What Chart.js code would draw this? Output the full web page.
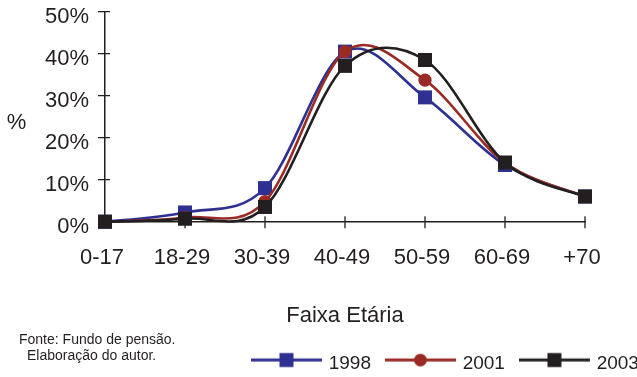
<!DOCTYPE html>
<html>
<head>
<meta charset="utf-8">
<script src="https://cdn.jsdelivr.net/npm/chart.js@4.4.1/dist/chart.umd.min.js"></script>
<style>
  html, body { margin: 0; padding: 0; background: #ffffff; }
  #wrap { width: 637px; height: 377px; }
</style>
</head>
<body>
<div id="wrap"><canvas id="chart" width="637" height="377"></canvas></div>
<script>
// Age bands on the horizontal axis
const ageBands = ['0-17', '18-29', '30-39', '40-49', '50-59', '60-69', '+70'];
// Share of participants (%) in each age band, by year
const share1998 = [0, 2.2, 8.0, 40.5, 29.6, 13.5, 6.0];
const share2001 = [0, 1.0, 4.8, 40.5, 33.7, 14.0, 6.0];
const share2003 = [0, 0.7, 3.5, 37.1, 38.5, 14.1, 6.0];
// Vertical axis ticks (%)
const yTickValues = [0, 10, 20, 30, 40, 50];
// Text
const seriesNames = ['1998', '2001', '2003'];
const xAxisTitle = 'Faixa Etária';
const yAxisTitle = '%';
const footNotes = ['Fonte: Fundo de pensão.', 'Elaboração do autor.'];

const ink = '#231F20';
const blue = '#2E3192';
const red = '#9A2A24';
const black = '#231F20';
const family = '"Liberation Sans", Arial, Helvetica, sans-serif';

// Legend swatch: a line with the series marker in the middle
function swatch(color, shape) {
  const c = document.createElement('canvas');
  c.width = 71; c.height = 28;
  const g = c.getContext('2d');
  const cy = 10.3;
  g.strokeStyle = color; g.lineWidth = 3;
  g.beginPath(); g.moveTo(0, cy); g.lineTo(71, cy); g.stroke();
  g.fillStyle = color;
  if (shape === 'circle') {
    g.beginPath(); g.arc(35.5, cy, 6.4, 0, Math.PI * 2); g.fill();
  } else {
    g.fillRect(35.5 - 7, cy - 7, 14, 14);
  }
  return c;
}
const swatches = [swatch(blue, 'rect'), swatch(red, 'circle'), swatch(black, 'rect')];

// Uniform Catmull-Rom control points (spreadsheet-style smoothed lines)
const smoothLines = {
  id: 'smoothLines',
  beforeDatasetsDraw(chart) {
    chart.getSortedVisibleDatasetMetas().forEach((meta) => {
      if (meta.dataset) meta.dataset.updateControlPoints(chart.chartArea, meta.iScale.axis);
      const pts = meta.data;
      pts.forEach((p, i) => {
        const prev = pts[i - 1] || p;
        const next = pts[i + 1] || p;
        const dx = (next.x - prev.x) / 6;
        const dy = (next.y - prev.y) / 6;
        p.cp1x = p.x - dx; p.cp1y = p.y - dy;
        p.cp2x = p.x + dx; p.cp2y = p.y + dy;
      });
    });
  }
};

// Tick marks that cross both axes
const crossTicks = {
  id: 'crossTicks',
  beforeDatasetsDraw(chart) {
    const { ctx, chartArea, scales: { x, y } } = chart;
    ctx.save();
    ctx.strokeStyle = ink;
    ctx.lineWidth = 1.3;
    ctx.beginPath();
    x.ticks.forEach((t, i) => {
      const px = x.getPixelForTick(i);
      ctx.moveTo(px, chartArea.bottom - 5.5);
      ctx.lineTo(px, chartArea.bottom + 6.5);
    });
    y.ticks.forEach((t, i) => {
      const py = y.getPixelForTick(i);
      ctx.moveTo(chartArea.left - 7, py);
      ctx.lineTo(chartArea.left + 5, py);
    });
    ctx.stroke();
    ctx.restore();
  }
};

// Legend sits in the lower right, level with the second note line
const legendPlacement = {
  id: 'legendPlacement',
  afterLayout(chart) {
    const lg = chart.legend;
    const dx = 237 - lg.left;
    const dy = 337.5 - lg.top;
    lg.left += dx; lg.right += dx;
    lg.top += dy; lg.bottom += dy;
  }
};

// Upright "%" axis label and the source notes
const annotations = {
  id: 'annotations',
  afterDraw(chart) {
    const { ctx, chartArea } = chart;
    ctx.save();
    ctx.fillStyle = ink;
    ctx.font = '22px ' + family;
    ctx.textAlign = 'center';
    ctx.textBaseline = 'middle';
    ctx.fillText(yAxisTitle, 16.5, (chartArea.top + chartArea.bottom) / 2 + 6.5);
    ctx.font = '14px ' + family;
    ctx.textAlign = 'left';
    ctx.textBaseline = 'alphabetic';
    ctx.fillText(footNotes[0], 19, 344);
    ctx.fillText(footNotes[1], 27, 360);
    ctx.restore();
  }
};

const common = {
  fill: false,
  borderWidth: 2.6,
  tension: 0.5,
  cubicInterpolationMode: 'default',
  pointBorderWidth: 0,
  pointHoverRadius: 0,
  clip: false
};

new Chart(document.getElementById('chart'), {
  type: 'line',
  data: {
    labels: ageBands,
    datasets: [
      Object.assign({ label: seriesNames[2], data: share2003, borderColor: black, backgroundColor: black,
        pointBackgroundColor: black, pointStyle: 'rect', pointRadius: 9.9 }, common),
      Object.assign({ label: seriesNames[1], data: share2001, borderColor: red, backgroundColor: red,
        pointBackgroundColor: red, pointStyle: 'circle', pointRadius: 6.6 }, common),
      Object.assign({ label: seriesNames[0], data: share1998, borderColor: blue, backgroundColor: blue,
        pointBackgroundColor: blue, pointStyle: 'rect', pointRadius: 9.9 }, common)
    ]
  },
  options: {
    responsive: false,
    devicePixelRatio: 1,
    animation: false,
    events: [],
    layout: { padding: { top: 11.7, right: 52, bottom: 0, left: 0 } },
    scales: {
      x: {
        type: 'category',
        offset: false,
        grid: { display: false, drawTicks: false },
        border: { display: true, color: ink, width: 1.5 },
        ticks: {
          color: ink,
          font: { family: family, size: 22, lineHeight: 1 },
          padding: 25.5,
          labelOffset: -3,
          maxRotation: 0,
          autoSkip: false
        },
        title: {
          display: true,
          text: xAxisTitle,
          color: ink,
          font: { family: family, size: 22, lineHeight: 1.2 },
          padding: { top: 0, bottom: 2.5 }
        },
        afterFit(scale) { scale.height = 109.6; scale.paddingLeft = 0; scale.paddingRight = 0; }
      },
      y: {
        type: 'linear',
        min: 0,
        max: 50,
        grid: { display: false, drawTicks: false },
        border: { display: true, color: ink, width: 1.5 },
        ticks: {
          color: ink,
          font: { family: family, size: 22, lineHeight: 1 },
          padding: 16,
          labelOffset: 5,
          callback: (v) => v + '%'
        },
        afterBuildTicks(scale) { scale.ticks = yTickValues.map(v => ({ value: v })); },
        afterFit(scale) { scale.width = 105; scale.paddingTop = 0; scale.paddingBottom = 0; }
      }
    },
    plugins: {
      tooltip: { enabled: false },
      legend: {
        display: true,
        position: 'bottom',
        align: 'start',
        labels: {
          usePointStyle: true,
          pointStyleWidth: 65.5,
          padding: 16.7,
          color: ink,
          font: { family: family, size: 19 },
          generateLabels() {
            return seriesNames.map((name, i) => ({
              text: name,
              pointStyle: swatches[i],
              fillStyle: 'transparent',
              strokeStyle: 'transparent',
              lineWidth: 0,
              hidden: false,
              fontColor: ink,
              datasetIndex: 2 - i
            }));
          }
        }
      }
    }
  },
  plugins: [smoothLines, crossTicks, legendPlacement, annotations]
});
</script>
</body>
</html>
